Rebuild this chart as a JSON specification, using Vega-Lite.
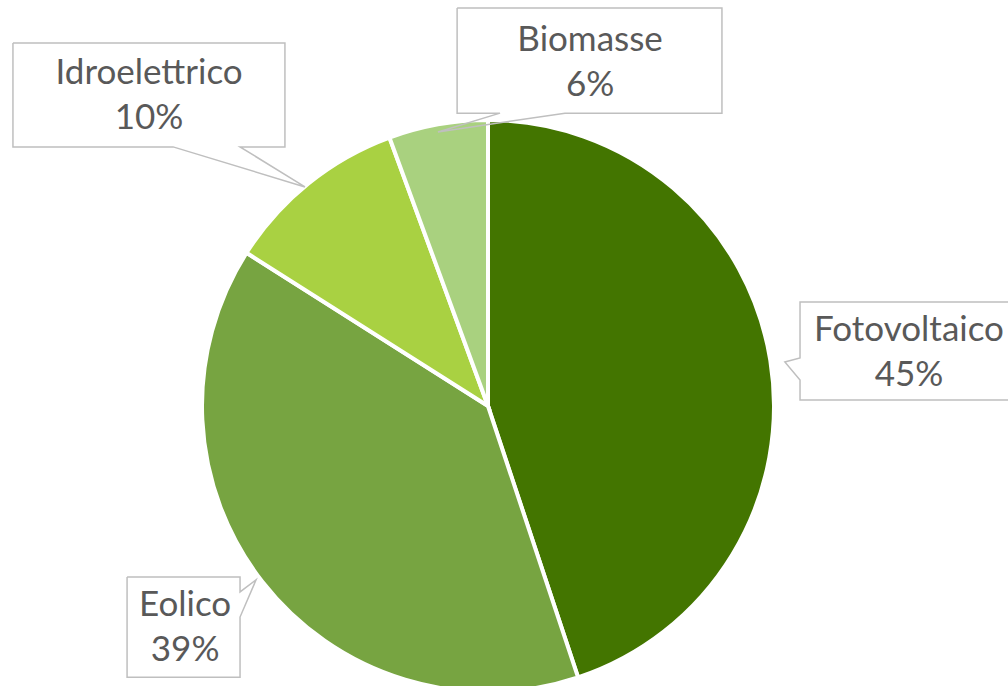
{
  "$schema": "https://vega.github.io/schema/vega-lite/v6.json",
  "width": 1008,
  "height": 686,
  "autosize": {"type": "none"},
  "padding": 0,
  "background": "white",
  "config": {"view": {"stroke": null}},
  "datasets": {
    "energia": [
      {"fonte": "Fotovoltaico", "quota": 0.449},
      {"fonte": "Eolico", "quota": 0.391},
      {"fonte": "Idroelettrico", "quota": 0.104},
      {"fonte": "Biomasse", "quota": 0.056}
    ],
    "etichette": [
      {"fonte": "Idroelettrico", "cx": -1.185, "cy": 1.084},
      {"fonte": "Biomasse", "cx": 0.357, "cy": 1.199},
      {"fonte": "Fotovoltaico", "cx": 1.472, "cy": 0.185},
      {"fonte": "Eolico", "cx": -1.059, "cy": -0.776}
    ],
    "riquadri": [
      {"fonte": "Idroelettrico", "k": 1, "px": -1.661, "py": 1.269},
      {"fonte": "Idroelettrico", "k": 2, "px": -0.710, "py": 1.269},
      {"fonte": "Idroelettrico", "k": 3, "px": -0.710, "py": 0.906},
      {"fonte": "Idroelettrico", "k": 4, "px": -0.867, "py": 0.906},
      {"fonte": "Idroelettrico", "k": 5, "px": -0.640, "py": 0.766},
      {"fonte": "Idroelettrico", "k": 6, "px": -1.101, "py": 0.906},
      {"fonte": "Idroelettrico", "k": 7, "px": -1.661, "py": 0.906},
      {"fonte": "Idroelettrico", "k": 8, "px": -1.661, "py": 1.269},
      {"fonte": "Biomasse", "k": 1, "px": -0.108, "py": 1.392},
      {"fonte": "Biomasse", "k": 2, "px": 0.818, "py": 1.392},
      {"fonte": "Biomasse", "k": 3, "px": 0.818, "py": 1.024},
      {"fonte": "Biomasse", "k": 4, "px": 0.269, "py": 1.024},
      {"fonte": "Biomasse", "k": 5, "px": -0.175, "py": 0.958},
      {"fonte": "Biomasse", "k": 6, "px": 0.042, "py": 1.024},
      {"fonte": "Biomasse", "k": 7, "px": -0.108, "py": 1.024},
      {"fonte": "Biomasse", "k": 8, "px": -0.108, "py": 1.392},
      {"fonte": "Fotovoltaico", "k": 1, "px": 1.895, "py": 0.364},
      {"fonte": "Fotovoltaico", "k": 2, "px": 1.091, "py": 0.364},
      {"fonte": "Fotovoltaico", "k": 3, "px": 1.091, "py": 0.168},
      {"fonte": "Fotovoltaico", "k": 4, "px": 1.038, "py": 0.154},
      {"fonte": "Fotovoltaico", "k": 5, "px": 1.091, "py": 0.091},
      {"fonte": "Fotovoltaico", "k": 6, "px": 1.091, "py": 0.021},
      {"fonte": "Fotovoltaico", "k": 7, "px": 1.895, "py": 0.021},
      {"fonte": "Eolico", "k": 1, "px": -1.262, "py": -0.598},
      {"fonte": "Eolico", "k": 2, "px": -0.867, "py": -0.598},
      {"fonte": "Eolico", "k": 3, "px": -0.867, "py": -0.650},
      {"fonte": "Eolico", "k": 4, "px": -0.811, "py": -0.608},
      {"fonte": "Eolico", "k": 5, "px": -0.867, "py": -0.738},
      {"fonte": "Eolico", "k": 6, "px": -0.867, "py": -0.948},
      {"fonte": "Eolico", "k": 7, "px": -1.262, "py": -0.948},
      {"fonte": "Eolico", "k": 8, "px": -1.262, "py": -0.598}
    ]
  },
  "layer": [
    {
      "data": {"name": "energia"},
      "mark": {"type": "arc", "outerRadius": 286, "stroke": "white", "strokeWidth": 4},
      "encoding": {
        "theta": {"field": "quota", "type": "quantitative", "stack": true},
        "order": {"field": "quota", "sort": "descending"},
        "color": {
          "field": "fonte",
          "type": "nominal",
          "scale": {
            "domain": ["Fotovoltaico", "Eolico", "Idroelettrico", "Biomasse"],
            "range": ["#437500", "#77A441", "#A9D142", "#A9D17F"]
          },
          "legend": null
        },
        "x": {"datum": 0, "type": "quantitative", "scale": {"domain": [-1.7063, 1.8182], "nice": false, "zero": false}, "axis": null},
        "y": {"datum": 0, "type": "quantitative", "scale": {"domain": [-0.979, 1.4196], "nice": false, "zero": false}, "axis": null}
      }
    },
    {
      "data": {"name": "riquadri"},
      "mark": {"type": "line", "stroke": "#BFBFBF", "strokeWidth": 1.5, "clip": true},
      "encoding": {
        "x": {"field": "px", "type": "quantitative", "axis": null},
        "y": {"field": "py", "type": "quantitative", "axis": null},
        "detail": {"field": "fonte"},
        "order": {"field": "k"}
      }
    },
    {
      "data": {"name": "energia"},
      "transform": [{"lookup": "fonte", "from": {"data": {"name": "etichette"}, "key": "fonte", "fields": ["cx", "cy"]}}],
      "mark": {"type": "text", "font": "Lato", "fontSize": 35, "fill": "#595959", "baseline": "middle", "align": "center", "dy": -23},
      "encoding": {
        "x": {"field": "cx", "type": "quantitative", "axis": null},
        "y": {"field": "cy", "type": "quantitative", "axis": null},
        "text": {"field": "fonte"}
      }
    },
    {
      "data": {"name": "energia"},
      "transform": [{"lookup": "fonte", "from": {"data": {"name": "etichette"}, "key": "fonte", "fields": ["cx", "cy"]}}],
      "mark": {"type": "text", "font": "Lato", "fontSize": 35, "fill": "#595959", "baseline": "middle", "align": "center", "dy": 22},
      "encoding": {
        "x": {"field": "cx", "type": "quantitative", "axis": null},
        "y": {"field": "cy", "type": "quantitative", "axis": null},
        "text": {"field": "quota", "format": ".0%"}
      }
    }
  ]
}
